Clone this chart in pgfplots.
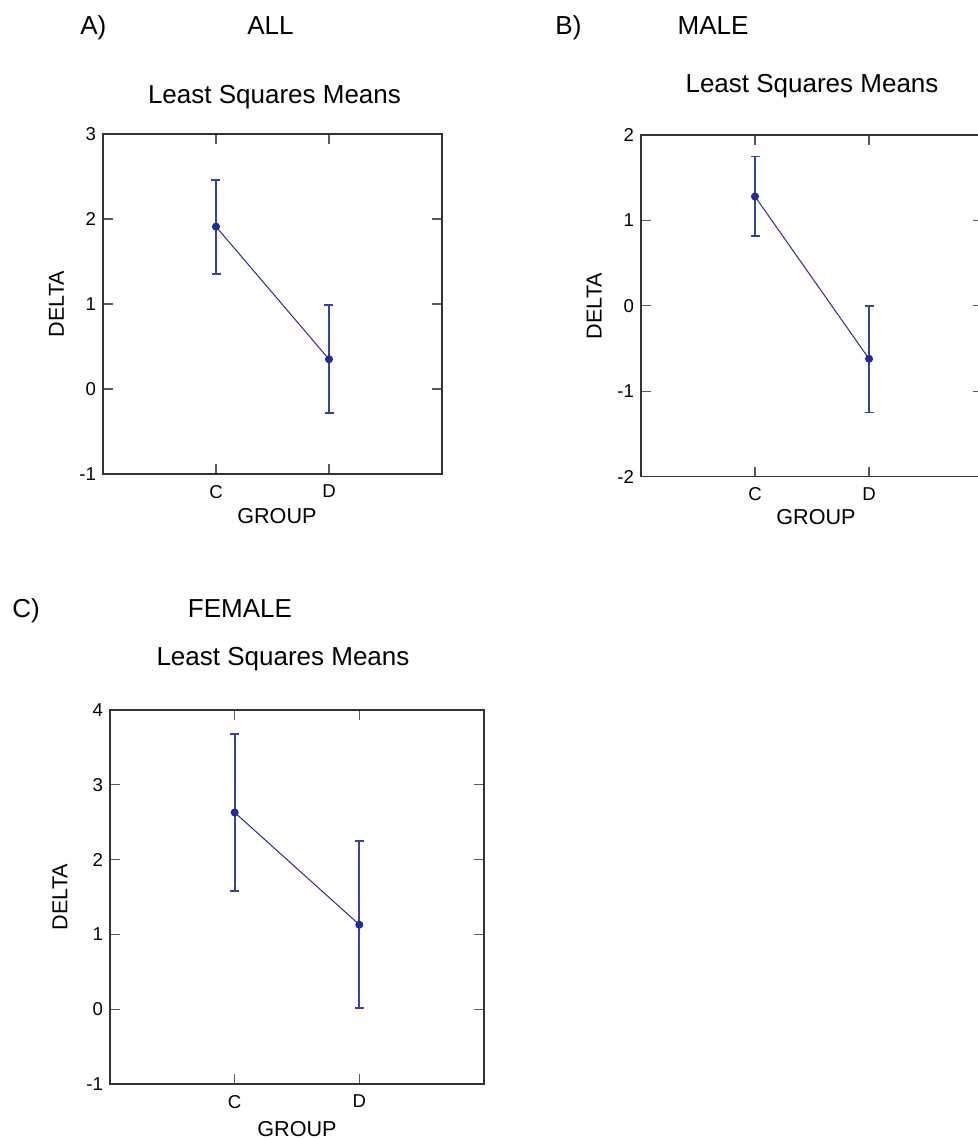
\documentclass[border=0pt]{standalone}
\usepackage{fontspec}
\setmainfont{Liberation Sans}
\usepackage{pgfplots}
\usepackage{pgfplotstable}
\pgfplotsset{compat=1.18}

\definecolor{dblue}{RGB}{35,45,145}

% group, mean, upper and lower half-widths of the intervals
\pgfplotstableread{
x y ep em
1 1.91 0.55 0.56
2 0.35 0.64 0.63
}\dataall
\pgfplotstableread{
x y ep em
1 1.28 0.47 0.46
2 -0.62 0.62 0.63
}\datamale
\pgfplotstableread{
x y ep em
1 2.63 1.05 1.05
2 1.13 1.115 1.11
}\datafemale

\pgfplotsset{
  lsm/.style={
    scale only axis, anchor=south west,
    xmin=0, xmax=3, xtick={1,2}, xticklabels={C,D},
    ytick distance=1,
    xtick pos=both, ytick pos=both, ticklabel pos=left,
    tick align=inside, major tick length=5pt,
    axis line style={black!80, line width=0.6pt},
    major tick style={black!65, line width=0.6pt},
    /pgf/number format/assume math mode=true,
    tick label style={font=\fontsize{9.3}{11}\selectfont},
    xticklabel style={yshift=-2pt},
    label style={font=\fontsize{10.8}{13}\selectfont},
    title style={font=\fontsize{13}{15}\selectfont, anchor=base},
    title={Least Squares Means},
    xlabel={GROUP}, ylabel={DELTA},
  },
  lsmplot/.style={
    draw=dblue, line width=0.5pt, mark=*, mark size=1.75pt,
    mark options={fill=dblue, draw=dblue},
    error bars/.cd, y dir=both, y explicit,
    error bar style={line width=0.9pt, dblue!90},
    error mark options={rotate=90, mark size=2.25pt, line width=0.8pt, dblue!90},
  },
}

\begin{document}
\begin{tikzpicture}
\useasboundingbox (0,0) rectangle (489pt,-569.5pt);

\begin{scope}[every node/.style={inner sep=0pt, font=\fontsize{13}{15}\selectfont}]
\node[anchor=base west] at (40pt,-17.5pt) {A)};
\node[anchor=base] at (135.25pt,-17.5pt) {ALL};
\node[anchor=base west] at (277.5pt,-17.5pt) {B)};
\node[anchor=base] at (356.5pt,-17.5pt) {MALE};
\node[anchor=base west] at (6pt,-308.5pt) {C)};
\node[anchor=base] at (120pt,-308.5pt) {FEMALE};
\end{scope}

% A) ALL
\begin{axis}[lsm, at={(51.5pt,-237pt)}, width=169.5pt, height=170pt,
  ymin=-1, ymax=3,
  title style={at={(axis description cs:0.5,1)}, yshift=9.5pt, xshift=1pt},
  xlabel style={at={(axis description cs:0.5,0)}, anchor=base, yshift=-24.5pt, xshift=2.2pt},
  ylabel style={at={(axis description cs:-0.137,0.5)}, anchor=center}]
\addplot[lsmplot] table[x=x, y=y, y error plus=ep, y error minus=em] {\dataall};
\end{axis}

% B) MALE
\begin{axis}[lsm, at={(320.5pt,-238.35pt)}, width=171pt, height=170.85pt,
  ymin=-2, ymax=2,
  title style={at={(axis description cs:0.5,1)}, yshift=15pt},
  xlabel style={at={(axis description cs:0.5,0)}, anchor=base, yshift=-24pt, xshift=2pt},
  ylabel style={at={(axis description cs:-0.137,0.5)}, anchor=center}]
\addplot[lsmplot] table[x=x, y=y, y error plus=ep, y error minus=em] {\datamale};
\end{axis}

% C) FEMALE
\begin{axis}[lsm, at={(55pt,-542pt)}, width=187pt, height=187pt,
  ymin=-1, ymax=4,
  title style={at={(axis description cs:0.5,1)}, yshift=16.5pt, xshift=-7pt},
  xlabel style={at={(axis description cs:0.5,0)}, anchor=base, yshift=-26pt},
  ylabel style={at={(axis description cs:-0.134,0.5)}, anchor=center}]
\addplot[lsmplot] table[x=x, y=y, y error plus=ep, y error minus=em] {\datafemale};
\end{axis}
\end{tikzpicture}
\end{document}
